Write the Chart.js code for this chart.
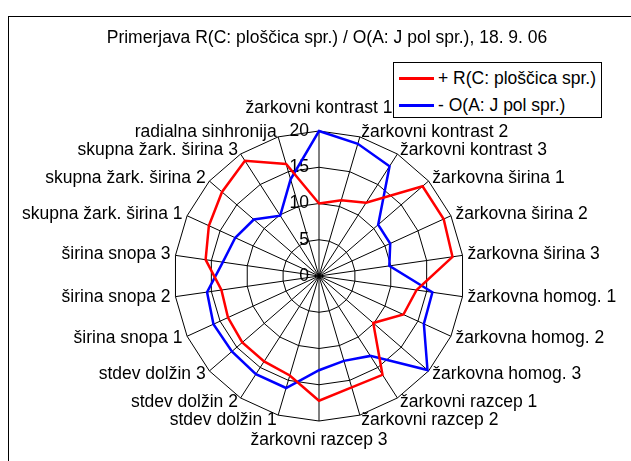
<!DOCTYPE html>
<html>
<head>
<meta charset="utf-8">
<script src="https://cdn.jsdelivr.net/npm/chart.js"></script>
<style>
    body { margin: 0; background: #fff; overflow: hidden; }
    #wrap { position: relative; width: 631px; height: 461px; }
    #frame { position: absolute; left: 8px; top: 16px; width: 700px; height: 500px; border: 1px solid #000; }
    #c { position: absolute; left: 0; top: 0; }
    #legend { position: absolute; left: 393px; top: 62px; width: 207px; height: 54px; border: 1px solid #000;
        background: #fff; font: 17.5px "Liberation Sans", Arial, sans-serif; }
    .row { position: absolute; left: 5px; height: 20px; white-space: nowrap; }
    .row span.l { position: absolute; left: 0; top: 9px; width: 35px; height: 3px; }
    .row span.t { position: absolute; left: 39px; top: 0; line-height: 20px; }
</style>
</head>
<body>
<div id="wrap">
    <div id="frame"></div>
    <canvas id="c" width="631" height="461"></canvas>
    <div id="legend"></div>
</div>
<script>
const categories = [
    'žarkovni kontrast 1', 'žarkovni kontrast 2', 'žarkovni kontrast 3',
    'žarkovna širina 1', 'žarkovna širina 2', 'žarkovna širina 3',
    'žarkovna homog. 1', 'žarkovna homog. 2', 'žarkovna homog. 3',
    'žarkovni razcep 1', 'žarkovni razcep 2', 'žarkovni razcep 3',
    'stdev dolžin 1', 'stdev dolžin 2', 'stdev dolžin 3',
    'širina snopa 1', 'širina snopa 2', 'širina snopa 3',
    'skupna žark. širina 1', 'skupna žark. širina 2', 'skupna žark. širina 3',
    'radialna sinhronija'
];
const seriesNames = ['+ R(C: ploščica spr.)', '- O(A: J pol spr.)'];
const valuesR = [10.0, 10.9, 12.0, 18.9, 18.9, 18.6, 13.6, 12.8, 9.9, 16.2, 16.0, 17.2,
    14.3, 14.0, 14.0, 13.8, 13.6, 15.8, 16.7, 17.7, 18.9, 16.1];
const valuesO = [20.0, 19.0, 18.0, 10.8, 10.8, 9.8, 15.8, 15.9, 19.8, 13.1, 12.2, 13.0,
    16.1, 16.1, 15.9, 16.0, 15.6, 13.4, 12.7, 11.9, 9.9, 13.9];
const tickValues = [0, 5, 10, 15, 20];
const colors = ['#ff0000', '#0000ff'];
const title = 'Primerjava R(C: ploščica spr.) / O(A: J pol spr.), 18. 9. 06';

const FONT = '"Liberation Sans", Arial, sans-serif';
// where the plot sits inside the frame (layout only)
const plotCenter = { x: 319, y: 276 };
const plotRadius = 145;
const bottomIndex = categories.length / 2;

function labelPadding(ctx) {
    if (ctx.index === 0) return 12;
    if (ctx.index === bottomIndex) return 9;
    return 5;
}

// tick labels left of the vertical axis, like Excel
const tickLabels = {
    id: 'tickLabels',
    beforeDatasetsDraw(chart) {
        const r = chart.scales.r;
        const ctx = chart.ctx;
        ctx.save();
        ctx.font = '17.5px ' + FONT;
        ctx.fillStyle = '#000';
        ctx.textAlign = 'right';
        ctx.textBaseline = 'middle';
        r.ticks.forEach(t => {
            const d = r.getDistanceFromCenterForValue(t.value);
            ctx.fillText(t.label, r.xCenter - 10, r.yCenter - d);
        });
        ctx.restore();
    }
};

// pin the radar to a fixed centre/radius and rebuild the point labels around it
function placeRadar(scale) {
    const box = { left: scale.left, right: scale.right, top: scale.top, bottom: scale.bottom };
    scale.xCenter = plotCenter.x;
    scale.yCenter = plotCenter.y;
    scale.drawingArea = plotRadius;
    scale.left = -1e4; scale.right = 1e4; scale.top = -1e4; scale.bottom = 1e4;
    scale.fit();
    Object.assign(scale, box);
    // side labels: centred vertically on their spoke end, as Excel does
    (scale._pointLabelItems || []).forEach((item, i) => {
        if (i === 0 || i === bottomIndex) return;
        const pos = scale.getPointPosition(i, scale.drawingArea + 5);
        const h = item.bottom - item.top;
        item.y = pos.y - h / 2;
        item.top = item.y;
        item.bottom = item.y + h;
    });
}

function buildLegend() {
    const box = document.getElementById('legend');
    seriesNames.forEach((name, i) => {
        const row = document.createElement('div');
        row.className = 'row';
        row.style.top = (5 + i * 27) + 'px';
        row.innerHTML = '<span class="l" style="background:' + colors[i] + '"></span><span class="t"></span>';
        row.querySelector('.t').textContent = name;
        box.appendChild(row);
    });
}

function init() {
    buildLegend();
    new Chart(document.getElementById('c'), {
        type: 'radar',
        data: {
            labels: categories,
            datasets: [
                { label: seriesNames[0], data: valuesR, borderColor: colors[0], borderWidth: 2.5, pointRadius: 0, fill: false },
                { label: seriesNames[1], data: valuesO, borderColor: colors[1], borderWidth: 2.5, pointRadius: 0, fill: false }
            ]
        },
        options: {
            responsive: false,
            animation: false,
            layout: { padding: { left: 30, right: 7, top: 0, bottom: 13 } },
            elements: { line: { tension: 0 } },
            scales: {
                r: {
                    min: 0,
                    max: 20,
                    afterBuildTicks: s => { s.ticks = tickValues.map(v => ({ value: v })); },
                    afterFit: placeRadar,
                    ticks: { display: false, stepSize: 5 },
                    grid: { color: '#000', lineWidth: 1 },
                    angleLines: { color: '#000', lineWidth: 1 },
                    pointLabels: { color: '#000', font: { family: FONT, size: 17.5 }, padding: labelPadding }
                }
            },
            plugins: {
                legend: { display: false },
                tooltip: { enabled: false },
                title: {
                    display: true,
                    text: title,
                    color: '#000',
                    font: { family: FONT, size: 17.5, weight: 'normal' },
                    padding: { top: 28, bottom: 40 }
                }
            }
        },
        plugins: [tickLabels]
    });
}

window.onload = init;
</script>
</body>
</html>
